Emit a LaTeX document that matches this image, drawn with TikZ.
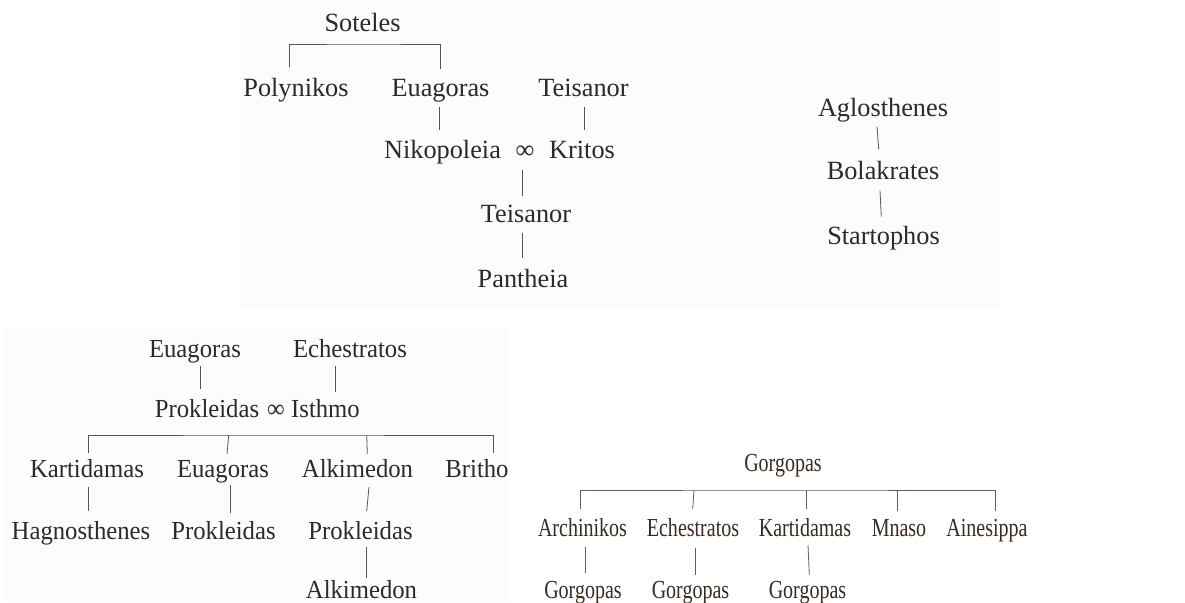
\documentclass[tikz,border=0pt]{standalone}
\usepackage{fontspec}
\setmainfont{Liberation Serif}
\newfontfamily\famA{Liberation Serif}[FakeStretch=0.95]
\newfontfamily\famB{Liberation Serif}[FakeStretch=0.77]
\usetikzlibrary{calc}
\definecolor{txt}{HTML}{2A2A2A}
\definecolor{ln}{HTML}{555555}
\definecolor{brn}{HTML}{3A2A20}
\definecolor{brnln}{HTML}{6A5A50}
\definecolor{panel}{HTML}{FCFCFC}
\begin{document}
\begin{tikzpicture}[x=1pt,y=-1pt,
  nm/.style={anchor=base,inner sep=0pt,text=txt,font=\fontsize{26.3}{30}\selectfont},
  nmA/.style={anchor=base,inner sep=0pt,text=txt,font=\famA\fontsize{26}{30}\selectfont},
  nmB/.style={anchor=base,inner sep=0pt,text=brn,font=\famB\fontsize{26}{30}\selectfont},
  con/.style={draw=ln,line width=0.8pt},
  conB/.style={draw=brnln,line width=0.8pt}]
\useasboundingbox (0,0) rectangle (1185,602);
\fill[panel] (240,0) rectangle (1000,307);
\fill[panel] (5,327) rectangle (510,602);

% ---- top family ----
\node[nm] (sot) at (362.5,32) {Soteles};
\node[nm] (pol) at (296,96) {Polynikos};
\node[nm] (eua) at (440.5,96) {Euagoras};
\node[nm] (tei) at (583.5,96) {Teisanor};
\node[nm] (nik) at (442.5,158) {Nikopoleia};
\node[nm] (inf) at (525,158) {∞};
\node[nm] (kri) at (582,158) {Kritos};
\node[nm] (tei2) at (526,222.7) {Teisanor};
\node[nm] (pan) at (523,287) {Pantheia};

\draw[con] ($(pol.base)+(-6.7,-29)$) |- ($(sot.base)+(0,12)$) -| ($(eua.base)+(0.2,-27)$);
\draw[con] ($(eua.base)+(-1.5,11)$) -- ($(nik.base)+(-3.5,-28)$);
\draw[con] ($(tei.base)+(0.5,11)$) -- ($(kri.base)+(2,-28)$);
\draw[con] ($(inf.base)+(-2.3,12)$) -- ($(tei2.base)+(-3.3,-26.7)$);
\draw[con] ($(tei2.base)+(-3.3,10.3)$) -- ($(pan.base)+(-0.3,-29)$);

% ---- right chain ----
\node[nm] (agl) at (883,116) {Aglosthenes};
\node[nm] (bol) at (883,179.3) {Bolakrates};
\node[nm] (sta) at (883.5,244) {Startophos};
\draw[con] ($(agl.base)+(-6,10.7)$) -- ($(bol.base)+(-4.3,-30)$);
\draw[con] ($(bol.base)+(-3,11.4)$) -- ($(sta.base)+(-2.2,-27.3)$);

% ---- bottom left family ----
\node[nmA] (beu) at (195,357) {Euagoras};
\node[nmA] (bec) at (350,357) {Echestratos};
\node[nmA] (pro) at (207,417) {Prokleidas};
\node[nmA] (binf) at (276,417) {∞};
\node[nmA] (ist) at (325.5,417) {Isthmo};
\node[nmA] (kar) at (87,477) {Kartidamas};
\node[nmA] (beu2) at (223,477) {Euagoras};
\node[nmA] (alk) at (357.5,477) {Alkimedon};
\node[nmA] (bri) at (477,477) {Britho};
\node[nmA] (hag) at (81,539) {Hagnosthenes};
\node[nmA] (pro2) at (223.5,539) {Prokleidas};
\node[nmA] (pro3) at (360.5,539) {Prokleidas};
\node[nmA] (alk2) at (361.5,598) {Alkimedon};

\draw[con] ($(beu.base)+(5,9)$) -- ($(pro.base)+(-7,-28)$);
\draw[con] ($(bec.base)+(-14.3,9)$) -- ($(ist.base)+(10.2,-25)$);
\draw[con] ($(kar.base)+(1,-24)$) |- ($(binf.base)+(0,18)$) -| ($(bri.base)+(16,-24)$);
\draw[con] ($(beu2.base)+(5.7,-42)$) -- ($(beu2.base)+(4,-23)$);
\draw[con] ($(alk.base)+(9.2,-42)$) -- ($(alk.base)+(9.8,-23)$);
\draw[con] ($(kar.base)+(1,10)$) -- ($(hag.base)+(7,-28)$);
\draw[con] ($(beu2.base)+(7,8)$) -- ($(pro2.base)+(6.5,-26)$);
\draw[con] ($(alk.base)+(11.5,10)$) -- ($(pro3.base)+(6.2,-28)$);
\draw[con] ($(pro3.base)+(6.2,8)$) -- ($(alk2.base)+(5.2,-20)$);

% ---- Gorgopas family ----
\node[nmB] (gor) at (783,471.7) {Gorgopas};
\node[nmB] (arc) at (582.5,536) {Archinikos};
\node[nmB] (ech) at (693,536) {Echestratos};
\node[nmB] (kart) at (805,536) {Kartidamas};
\node[nmB] (mna) at (899,536) {Mnaso};
\node[nmB] (ain) at (987,536) {Ainesippa};
\node[nmB] (g1) at (583,598) {Gorgopas};
\node[nmB] (g2) at (690.5,598) {Gorgopas};
\node[nmB] (g3) at (807.5,598) {Gorgopas};

\draw[conB] ($(arc.base)+(-1.8,-27)$) |- ($(gor.base)+(0,18.3)$) -| ($(ain.base)+(8,-25.3)$);
\draw[conB] ($(ech.base)+(1,-46)$) -- ($(ech.base)+(-0.3,-27)$);
\draw[conB] ($(kart.base)+(1.7,-46)$) -- ($(kart.base)+(1.7,-27)$);
\draw[conB] ($(mna.base)+(-2,-46)$) -- ($(mna.base)+(-2,-25.3)$);
\draw[conB] ($(arc.base)+(2.5,11)$) -- ($(g1.base)+(2,-25)$);
\draw[conB] ($(ech.base)+(2,12)$) -- ($(g2.base)+(4.5,-23)$);
\draw[conB] ($(kart.base)+(3,9)$) -- ($(g3.base)+(1.8,-23)$);
\end{tikzpicture}
\end{document}
